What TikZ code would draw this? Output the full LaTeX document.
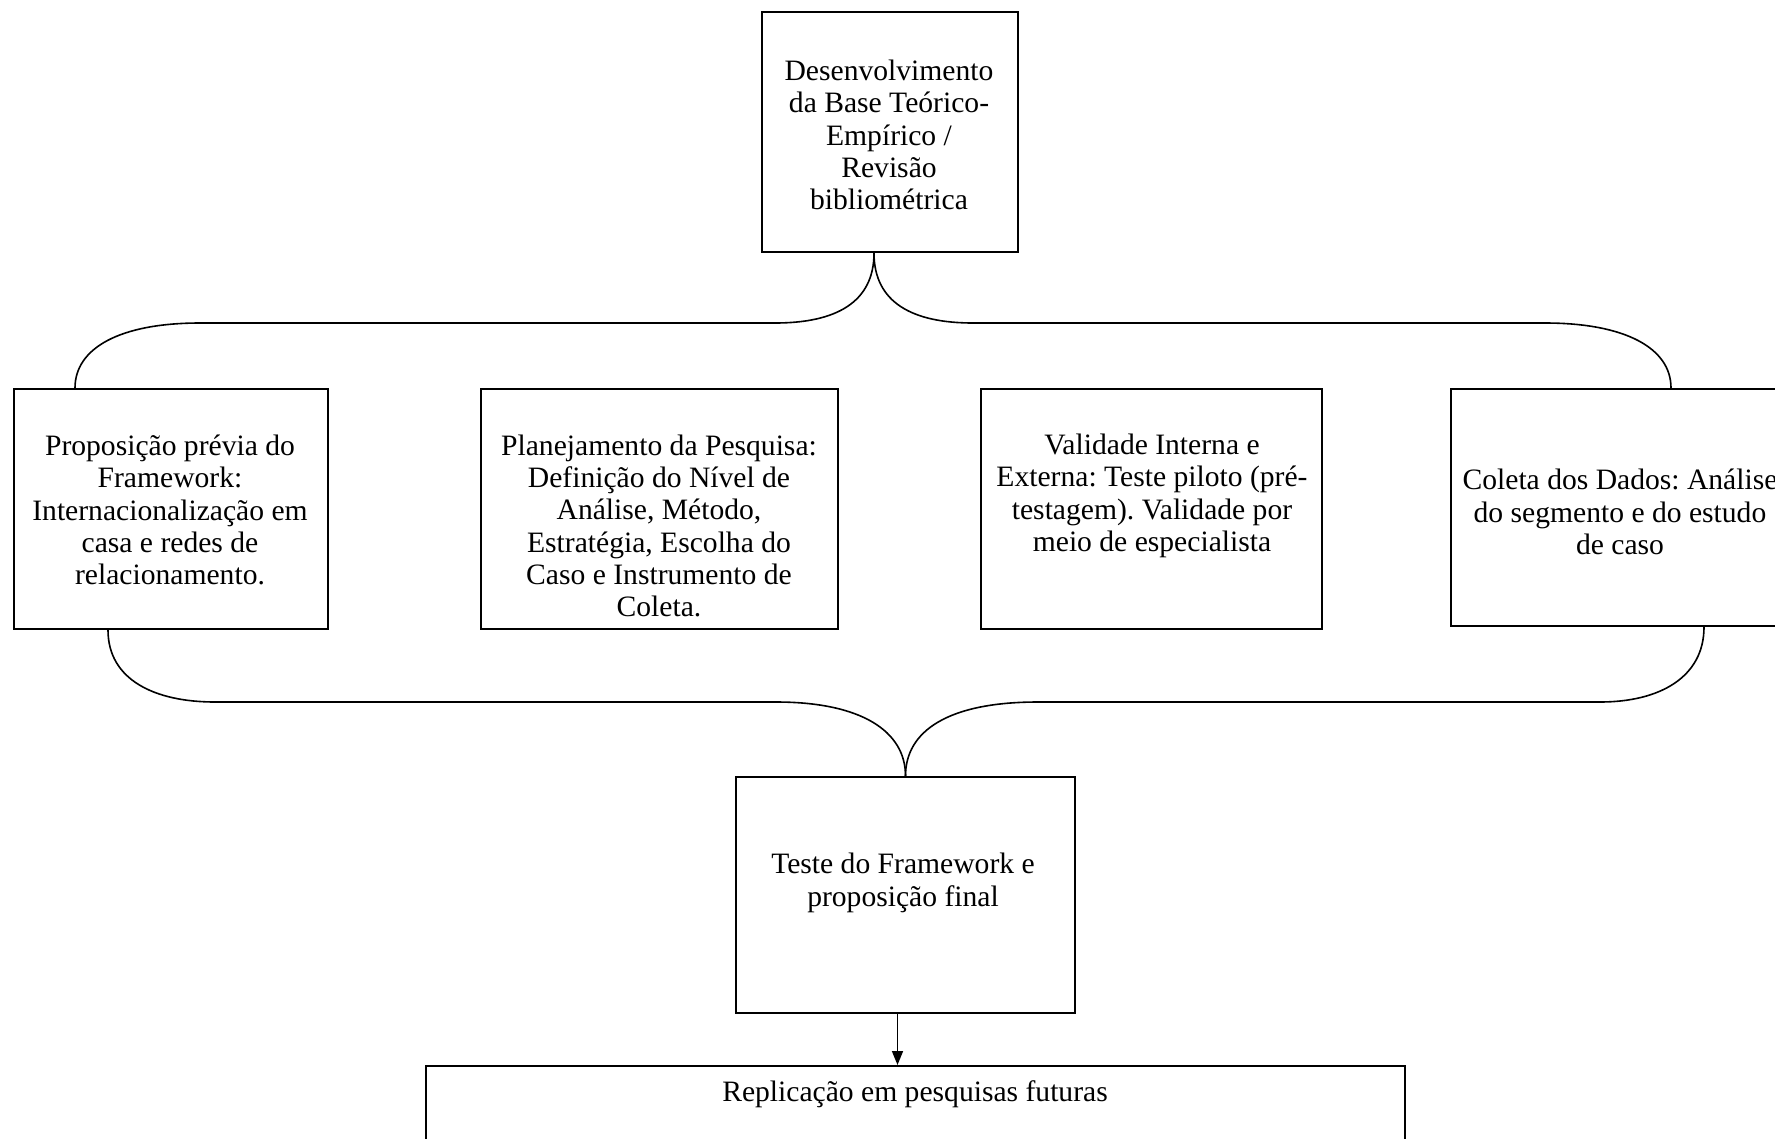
\documentclass[tikz,border=0pt]{standalone}
\usepackage{fontspec}
\setmainfont{Liberation Serif}
\usetikzlibrary{arrows.meta}
\frenchspacing
\begin{document}
\begin{tikzpicture}[x=1pt,y=-1pt,
  box/.style={draw=black, line width=2pt, inner sep=0pt},
  txt/.style={align=center, inner sep=0pt, font=\fontsize{29.6}{32.3}\selectfont},
  brace/.style={draw=black, line width=1.6pt},
  arr/.style={draw=black, line width=1.6pt, -{Triangle[length=14pt,width=11pt]}}]
\useasboundingbox (0,0) rectangle (1775,1138);
\clip (0,0) rectangle (1775,1138);

% boxes
\node[box, minimum width=256pt, minimum height=240pt] (top) at (890,132) {};
\node[box, minimum width=314pt, minimum height=240pt] (b1) at (171,509) {};
\node[box, minimum width=357pt, minimum height=240pt] (b2) at (659.5,509) {};
\node[box, minimum width=341pt, minimum height=240pt] (b3) at (1151.5,509) {};
\node[box, minimum width=336pt, minimum height=237pt] (b4) at (1619,507.5) {};
\node[box, minimum width=339pt, minimum height=236pt] (test) at (905.5,895) {};
\node[box, minimum width=979pt, minimum height=114pt] (repl) at (915.5,1123) {};

% texts
\node[txt] (top-t) at (889,135) {Desenvolvimento\\da Base Teórico-\\Empírico /\\Revisão\\bibliométrica};
\node[txt] (b1-t) at (170,510) {Proposição prévia do\\Framework:\\Internacionalização em\\casa e redes de\\relacionamento.};
\node[txt] (b2-t) at (659,526) {Planejamento da Pesquisa:\\Definição do Nível de\\Análise, Método,\\Estratégia, Escolha do\\Caso e Instrumento de\\Coleta.};
\node[txt] (b3-t) at (1152,496) {Validade Interna e\\Externa: Teste piloto (pré-\\testagem). Validade por\\meio de especialista};
\node[txt] (b4-t) at (1620,512) {Coleta dos Dados: Análise\\do segmento e do estudo\\de caso};
\node[txt] (test-t) at (903,883) {Teste do Framework e\\proposição final};
\node[txt] (repl-t) at (915,1094) {Replicação em pesquisas futuras};

% upper brace
\draw[brace] ([xshift=-16pt]top.south) .. controls +(0,50) and +(60,0) .. (775,323)
  -- (200,323) .. controls +(-80,0) and +(0,-40) .. ([xshift=-96pt]b1.north);
\draw[brace] ([xshift=-16pt]top.south) .. controls +(0,50) and +(-60,0) .. (973,323)
  -- (1545,323) .. controls +(80,0) and +(0,-40) .. ([xshift=52pt]b4.north);

% lower brace
\draw[brace] ([xshift=-63pt]b1.south) .. controls +(0,50) and +(-60,0) .. (215,702)
  -- (776,702) .. controls +(85,0) and +(0,-45) .. (test.north);
\draw[brace] ([xshift=85pt]b4.south) .. controls +(0,50) and +(60,0) .. (1600,702)
  -- (1038,702) .. controls +(-90,0) and +(0,-45) .. (test.north);

% arrow
\draw[arr] ([xshift=-8pt]test.south) -- ([xshift=-8pt]test.south |- repl.north);
\end{tikzpicture}
\end{document}
